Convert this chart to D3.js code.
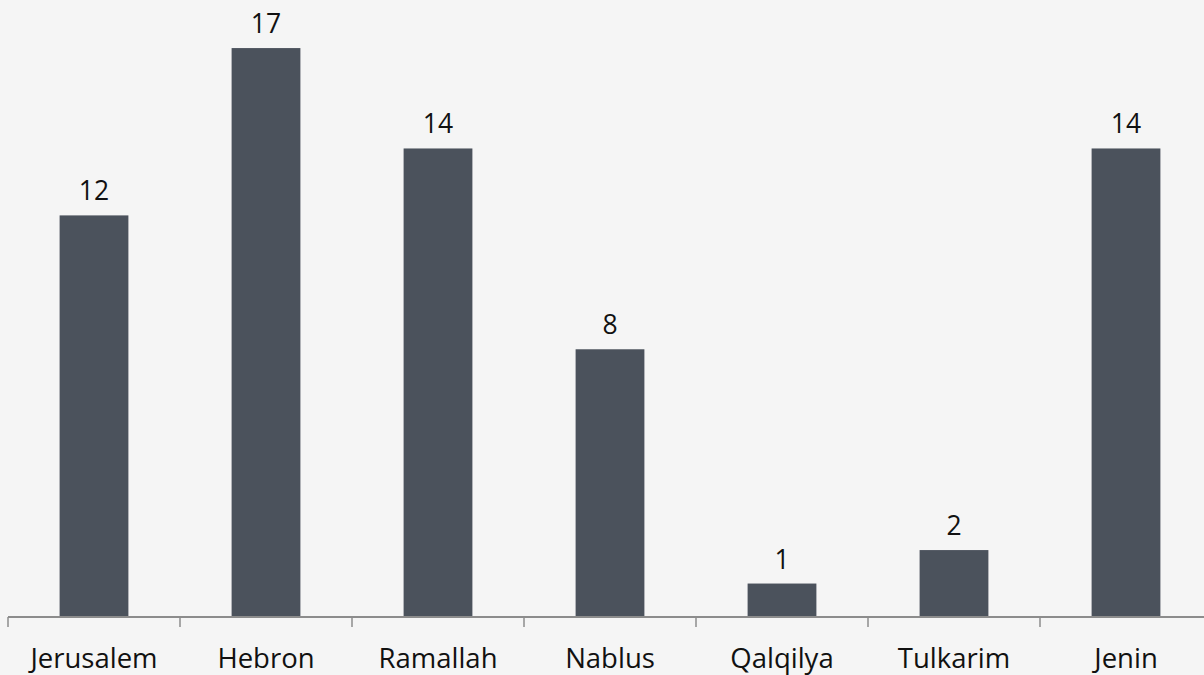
<!DOCTYPE html>
<html>
<head>
<meta charset="utf-8">
<script src="https://cdn.jsdelivr.net/npm/d3@7"></script>
<style>
	html,body{margin:0;padding:0;background:#f5f5f5;}
	.BarLabels{font-family:"Open Sans",sans-serif;font-size:26.5px;fill:#111;}
	.CatAxis text{font-family:"Open Sans",sans-serif;font-size:27.5px;fill:#111;}
	.CatAxis path,.CatAxis line{stroke:#8c8c8c;stroke-width:2;}
</style>
</head>
<body>
<div id="idChart"></div>
<script>
var aCities=["Jerusalem","Hebron","Ramallah","Nablus","Qalqilya","Tulkarim","Jenin"];
var aCounts=[12,17,14,8,1,2,14];

function DrawCityBars()
{
	var iWidth=1204;
	var iHeight=675;
	var iAxisY=617;

	var myCanvas=d3.select("#idChart").append("svg")
		.attr("width",iWidth)
		.attr("height",iHeight)
		.style("display","block")
		.style("background","#f5f5f5");

	var xAxes=d3.scaleBand()
		.domain(aCities)
		.range([8,8+172*7])
		.paddingInner(0.6)
		.paddingOuter(0.3);

	var yAxes=d3.scaleLinear()
		.domain([0,18])
		.range([iAxisY,14.6]);

	var myData=aCities.map(function(sCity,i){return {sCity:sCity,iCount:aCounts[i]};});

	myCanvas.selectAll(".CityBars")
		.data(myData)
		.enter().append("rect")
		.attr("class","CityBars")
		.attr("x",function(myNode){return xAxes(myNode.sCity);})
		.attr("y",function(myNode){return yAxes(myNode.iCount);})
		.attr("width",xAxes.bandwidth())
		.attr("height",function(myNode){return iAxisY-yAxes(myNode.iCount);})
		.attr("fill","#4b525c");

	myCanvas.selectAll(".BarLabels")
		.data(myData)
		.enter().append("text")
		.attr("class","BarLabels")
		.attr("text-anchor","middle")
		.attr("x",function(myNode){return xAxes(myNode.sCity)+xAxes.bandwidth()/2;})
		.attr("y",function(myNode){return yAxes(myNode.iCount)-15;})
		.text(function(myNode){return myNode.iCount;});

	// category axis with ticks on the band boundaries
	var xEdges=d3.scaleLinear().domain([0,7]).range([8,8+172*7]);
	var myAxis=myCanvas.append("g").attr("class","CatAxis");

	myAxis.append("line")
		.attr("x1",8).attr("x2",iWidth)
		.attr("y1",iAxisY).attr("y2",iAxisY);

	myAxis.selectAll(".CatTicks")
		.data(d3.range(8))
		.enter().append("line")
		.attr("class","CatTicks")
		.attr("x1",function(i){return xEdges(i);})
		.attr("x2",function(i){return xEdges(i);})
		.attr("y1",iAxisY)
		.attr("y2",iAxisY+10)
		.style("stroke-width",1.5);

	myAxis.selectAll(".CatLabels")
		.data(aCities)
		.enter().append("text")
		.attr("class","CatLabels")
		.attr("text-anchor","middle")
		.attr("x",function(sCity){return xAxes(sCity)+xAxes.bandwidth()/2;})
		.attr("y",iAxisY+51)
		.text(function(sCity){return sCity;});
}

DrawCityBars();
</script>
</body>
</html>
